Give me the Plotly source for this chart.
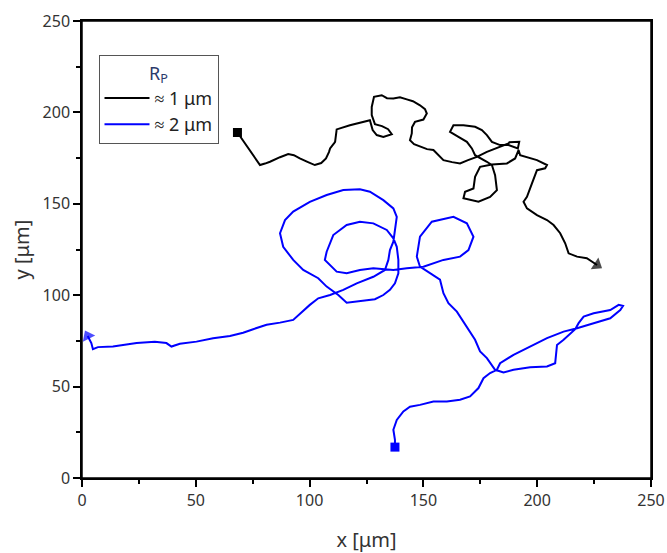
import plotly.graph_objects as go

# Trajectory R_P ≈ 1 µm (black)
x1 = [68.3, 70.1, 72.0, 73.8, 76.0, 78.2, 80.4, 82.6, 87.0, 90.6, 93.1, 95.7, 99.3, 102.3, 105.1,
      107.2, 108.5, 109.0, 110.8, 111.2, 111.9, 114.7, 117.7, 122.1, 126.5,
      127.7, 129.5, 132.4, 136.1, 134.5, 131.8, 128.7, 127.3, 127.3, 128.3, 131.7, 134.0, 136.8,
      139.7, 142.7, 145.4, 148.5, 150.7, 151.5, 150.0, 146.3, 145.0, 144.9, 144.1, 145.9, 148.5,
      151.6, 154.4, 157.3, 158.8, 162.6, 166.1, 169.6, 173.5,
      177.9, 183.7, 187.4, 187.8, 192.1, 191.5, 187.4, 183.7, 180.1, 177.9, 175.7, 172.7, 167.6,
      163.2, 161.7, 165.4, 169.1, 171.3, 172.7, 177.9, 180.1,
      181.5, 182.3, 179.3, 174.2, 167.6, 168.3, 172.0, 172.7, 174.9, 180.1, 186.7, 190.3, 191.8,
      192.5, 199.9, 204.3, 203.5, 199.9, 197.7, 195.5, 194.0, 195.5, 199.9, 204.3, 207.2, 210.1,
      212.3, 213.8, 217.5, 221.8, 226.3]
y1 = [189.0, 185.8, 182.1, 179.4, 175.0, 171.2, 172.0, 173.0, 175.5, 177.2, 176.6, 174.8, 172.8, 171.2, 172.3,
      174.8, 178.3, 180.3, 183.2, 183.9, 190.7, 191.9, 193.0, 194.3, 195.7,
      190.3, 187.6, 186.6, 188.1, 190.8, 192.5, 193.6, 198.5, 203.0, 208.5, 209.4, 207.8, 207.6,
      208.3, 207.1, 206.1, 203.9, 201.8, 199.4, 196.1, 194.8, 191.9, 188.5, 184.8, 182.6, 181.2,
      179.9, 179.4, 175.7, 173.9, 172.8, 172.1, 173.9, 175.7,
      178.4, 181.2, 183.0, 183.7, 183.9, 180.3, 182.1, 182.1, 183.9, 187.6, 190.3, 192.1, 193.0,
      193.0, 189.4, 186.6, 183.9, 180.3, 176.6, 173.0, 171.2,
      165.7, 157.5, 153.8, 151.1, 153.0, 156.6, 158.4, 164.8, 170.2, 171.5, 172.1, 174.8, 179.4,
      176.6, 173.9, 171.2, 169.4, 168.4, 161.2, 153.8, 151.1, 147.5, 143.8, 141.1, 138.4, 133.9,
      128.4, 122.9, 121.1, 120.2, 116.5]

# Trajectory R_P ≈ 2 µm (blue)
x2 = [137.5, 137.5, 136.8, 138.3, 141.2, 144.1, 148.5, 154.4, 160.3, 166.1, 170.5, 174.2, 176.4, 179.3,
      182.3, 183.7, 189.6, 195.5, 199.9, 204.3, 211.6, 217.5, 224.8, 232.1, 236.5, 237.7, 235.8,
      232.1, 224.8, 220.4, 218.2, 216.7, 211.6, 208.7, 207.9, 204.3, 196.9, 189.6, 185.2, 181.5,
      177.9, 174.9, 172.7, 169.8, 166.9, 164.7, 161.0, 158.8, 157.3, 152.9, 148.5, 147.1, 148.5,
      153.7, 163.2, 169.1, 172.0, 169.8, 166.1, 158.8, 150.0, 142.7, 136.8, 128.0, 122.1, 116.3,
      111.9, 106.7, 107.5, 110.4, 116.3, 122.1, 128.0, 133.9, 136.8, 138.3, 139.0, 139.0, 137.5,
      135.3, 132.4, 128.7, 122.1, 116.3, 112.6, 107.5, 103.8, 97.2, 92.8, 88.4, 87.0, 89.2, 92.8,
      100.1, 107.5, 114.8, 122.1, 126.5, 132.4, 136.8, 138.3, 137.5, 136.8, 135.3, 134.6, 133.1,
      128.0, 120.7, 114.8, 109.0, 103.8, 100.1, 95.8, 92.8, 87.0, 81.1, 75.2, 70.8, 65.0, 57.6,
      50.3, 43.0, 39.3, 37.1, 32.0, 24.0, 13.6, 7.0, 4.8, 4.1, 2.5]
y2 = [16.9, 20.9, 26.4, 31.8, 36.4, 39.0, 40.0, 41.8, 41.8, 42.8, 44.6, 49.2, 54.6, 57.4,
      59.2, 62.8, 67.4, 71.0, 73.8, 76.5, 80.1, 81.9, 84.7, 87.4, 91.9, 94.1, 94.7,
      91.9, 90.1, 88.3, 84.7, 81.4, 75.6, 72.8, 62.8, 61.0, 60.6, 59.2, 57.7, 59.2,
      65.6, 69.2, 75.6, 81.0, 86.5, 91.0, 95.6, 101.1, 108.5, 112.0, 115.6, 121.1, 132.0,
      140.2, 142.9, 139.3, 132.0, 124.7, 121.1, 119.3, 115.6, 114.7, 113.8, 114.7, 113.8, 112.0,
      112.9, 119.3, 123.8, 132.9, 138.4, 140.2, 139.3, 135.7, 131.1, 126.5, 119.3, 112.0, 106.5,
      102.9, 100.1, 97.8, 97.0, 95.9, 100.1, 104.7, 109.3, 113.8, 119.3, 126.5, 133.9, 141.1, 145.7,
      151.1, 154.8, 157.5, 157.9, 156.6, 152.0, 147.5, 142.9, 135.7, 129.3, 124.7, 119.3, 113.8,
      110.1, 106.5, 102.9, 100.1, 98.3, 94.7, 90.1, 86.5, 85.0, 83.8, 81.4, 79.5, 77.7, 76.5,
      74.6, 73.4, 71.9, 73.8, 74.5, 73.8, 71.9, 71.6, 70.5, 73.8, 77.7]

names = ["≈ 1 μm", "≈ 2 μm"]
colors = ["#000000", "#0000ff"]
tickvals = [0, 50, 100, 150, 200, 250]

FONT = "Noto Sans"

fig = go.Figure()
for xs, ys, nm, col in [(x1, y1, names[0], colors[0]), (x2, y2, names[1], colors[1])]:
    fig.add_trace(go.Scatter(
        x=xs, y=ys, name=nm, mode="lines",
        line=dict(color=col, width=2),
        showlegend=True,
    ))
    # start square
    fig.add_trace(go.Scatter(
        x=xs[:1], y=ys[:1], mode="markers", showlegend=False, hoverinfo="skip",
        marker=dict(size=9, symbol="square", color=col, line=dict(width=0)),
    ))
    # end arrow head, oriented along the last segment
    fig.add_trace(go.Scatter(
        x=xs[-2:], y=ys[-2:], mode="markers", showlegend=False, hoverinfo="skip",
        marker=dict(size=[0, 12], symbol="triangle-up", color=col, angleref="previous",
                    line=dict(width=0)),
    ))

axis_common = dict(
    range=[0, 250], tickvals=tickvals, showgrid=False, zeroline=False, automargin=False,
    showline=True, linecolor="black", linewidth=1.5, mirror=True,
    ticks="outside", ticklen=7, tickwidth=1.5, tickcolor="black",
    minor=dict(ticks="outside", ticklen=4, tickwidth=1.5, dtick=25, tickcolor="black"),
    tickfont=dict(family=FONT, size=16, color="#333333"),
)

fig.update_layout(
    width=667, height=553,
    margin=dict(l=82, r=16, t=21, b=75),
    paper_bgcolor="white", plot_bgcolor="white",
    xaxis=dict(**axis_common, title=dict(text="x [μm]", font=dict(family=FONT, size=20, color="#333333"), standoff=24)),
    yaxis=dict(**axis_common, title=dict(text="y [μm]", font=dict(family=FONT, size=20, color="#333333"), standoff=8)),
    legend=dict(
        x=0.029, y=0.925, xanchor="left", yanchor="top",
        bgcolor="white", bordercolor="#555555", borderwidth=1,
        font=dict(family=FONT, size=18, color="#222222"),
        title=dict(text="R<sub>P</sub>", side="top center", font=dict(family=FONT, size=18, color="#2b3a6b")),
        itemwidth=45, tracegroupgap=0,
    ),
    showlegend=True,
    shapes=[dict(type="rect", xref="paper", yref="paper", x0=0, y0=0, x1=1, y1=1,
                 line=dict(color="black", width=1.5), fillcolor="rgba(0,0,0,0)", layer="above")],
)

# remove the page's default body margin so the figure fills the window exactly
fig.write_html("out.html", config={"displayModeBar": False},
               post_script="document.body.style.margin='0';document.body.style.overflow='hidden';")
